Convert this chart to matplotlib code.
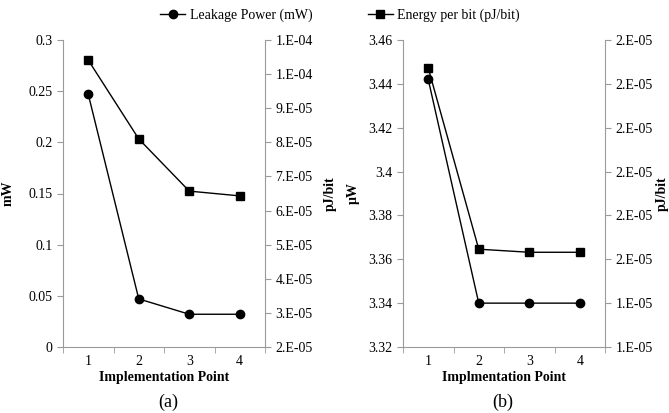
import math
import matplotlib
matplotlib.use("Agg")
import matplotlib.pyplot as plt
from matplotlib.ticker import FuncFormatter, FixedLocator
from matplotlib.lines import Line2D

plt.rcParams['font.family'] = ['Liberation Serif', 'DejaVu Serif']

points = [1, 2, 3, 4]

# (a)
leak_a = [0.247, 0.047, 0.032, 0.032]          # mW
energy_a = [1.041e-4, 8.1e-5, 6.57e-5, 6.43e-5]  # pJ/bit

# (b)
leak_b = [3.442, 3.340, 3.340, 3.340]          # uW
energy_b = [1.936e-5, 1.523e-5, 1.516e-5, 1.516e-5]

GREY = '#9a9a9a'


def excel_sci(v, pos=None):
    # mimic Excel "0.E+00" formatting (round half up on mantissa)
    if v <= 0:
        return "0.E+00"
    e = math.floor(math.log10(v) + 1e-9)
    m = math.floor(v / 10 ** e + 0.5 + 1e-9)
    if m == 10:
        m = 1
        e += 1
    return f"{m}.E{e:03d}"


def plain(v, pos=None):
    return f"{round(v, 4):g}"


def style(ax, ax2):
    for a in (ax, ax2):
        a.spines['top'].set_visible(False)
        for s in ('left', 'right', 'bottom'):
            a.spines[s].set_color(GREY)
        a.tick_params(axis='y', colors=GREY, labelcolor='black', labelsize=10, length=4)
    ax2.spines['left'].set_visible(False)
    ax2.spines['bottom'].set_visible(False)
    ax.spines['right'].set_visible(False)
    ax.set_xlim(0.5, 4.5)
    ax.set_xticks(points)
    ax.xaxis.set_minor_locator(FixedLocator([0.5, 1.5, 2.5, 3.5, 4.5]))
    ax.tick_params(axis='x', which='major', length=0, labelsize=10, pad=6)
    ax.tick_params(axis='x', which='minor', length=4, color=GREY)


fig = plt.figure(figsize=(6.69, 4.13), dpi=100)

# ---- panel (a)
ax = fig.add_axes([63 / 669, 66 / 413, 202 / 669, 307 / 413])
ax2 = ax.twinx()
ax.plot(points, leak_a, color='black', lw=1, marker='o', ms=6)
ax2.plot(points, energy_a, color='black', lw=1, marker='s', ms=6)
ax.set_ylim(0, 0.3)
ax.set_yticks([0, 0.05, 0.1, 0.15, 0.2, 0.25, 0.3])
ax.yaxis.set_major_formatter(FuncFormatter(plain))
ax2.set_ylim(2e-5, 1.1e-4)
ax2.set_yticks([k * 1e-5 for k in range(2, 12)])
ax2.yaxis.set_major_formatter(FuncFormatter(excel_sci))
style(ax, ax2)
ax.set_ylabel('mW', fontweight='bold', fontsize=10, labelpad=10)
ax2.set_ylabel('pJ/bit', fontweight='bold', fontsize=10, labelpad=8)
ax.set_xlabel('Implementation Point', fontweight='bold', fontsize=10, labelpad=2)

# ---- panel (b)
bx = fig.add_axes([403 / 669, 66 / 413, 202 / 669, 307 / 413])
bx2 = bx.twinx()
bx.plot(points, leak_b, color='black', lw=1, marker='o', ms=6)
bx2.plot(points, energy_b, color='black', lw=1, marker='s', ms=6)
bx.set_ylim(3.32, 3.46)
bx.set_yticks([3.32, 3.34, 3.36, 3.38, 3.40, 3.42, 3.44, 3.46])
bx.yaxis.set_major_formatter(FuncFormatter(plain))
bx2.set_ylim(1.3e-5, 2.0e-5)
bx2.set_yticks([k * 1e-6 for k in range(13, 21)])
bx2.yaxis.set_major_formatter(FuncFormatter(excel_sci))
style(bx, bx2)
bx.set_ylabel('µW', fontweight='bold', fontsize=10, labelpad=6)
bx2.set_ylabel('pJ/bit', fontweight='bold', fontsize=10, labelpad=2)
bx.set_xlabel('Implmentation Point', fontweight='bold', fontsize=10, labelpad=2)

fig.text(168 / 669, 1 - 402 / 413, '(a)', ha='center', va='center', fontsize=13)
fig.text(503 / 669, 1 - 402 / 413, '(b)', ha='center', va='center', fontsize=13)

handles = [Line2D([], [], color='black', lw=1, marker='o', ms=6),
           Line2D([], [], color='black', lw=1, marker='s', ms=6)]
fig.legend(handles, ['Leakage Power (mW)', 'Energy per bit (pJ/bit)'],
           loc='center', bbox_to_anchor=(340 / 669, 1 - 15 / 413), ncol=2,
           frameon=False, fontsize=10, handlelength=1.8, handletextpad=0.3,
           columnspacing=4.0)

fig.savefig('out.png', dpi=100)
